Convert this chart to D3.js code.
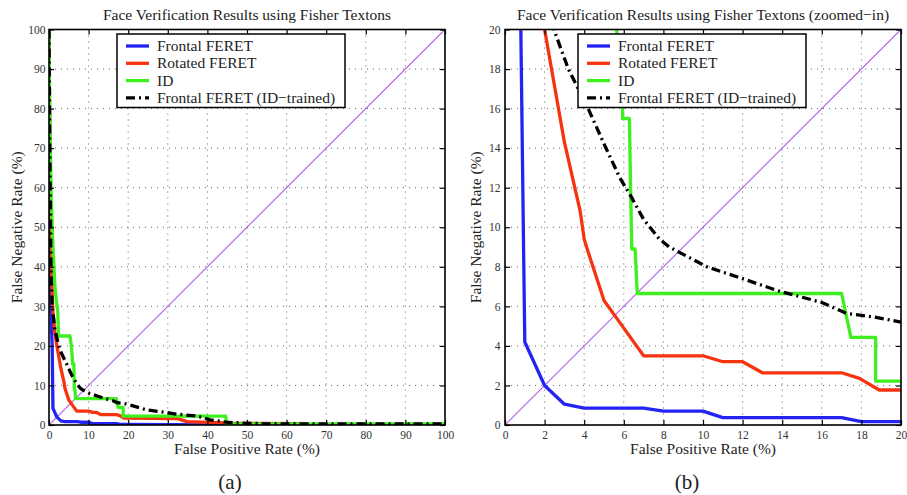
<!DOCTYPE html>
<html>
<head>
<meta charset="utf-8">
<script src="https://cdn.jsdelivr.net/npm/d3@7"></script>
<style>
  body { margin: 0; background: #fff; }
  svg { display: block; }
</style>
</head>
<body>
<div class="chart"></div>
<script>
// Curves: [false positive rate %, false negative rate %]
var frontalFeret = [
  [0, 100], [0.15, 70], [0.3, 45], [0.5, 28], [0.8, 20], [0.95, 8], [1, 4.2],
  [2, 2], [3, 1.05], [4, 0.85], [7, 0.85], [8, 0.7], [10, 0.7], [11, 0.37],
  [17, 0.37], [18, 0.17], [20, 0.17], [30, 0.12], [44, 0.05]
];
var rotatedFeret = [
  [0, 99], [0.2, 70], [0.5, 45], [0.9, 30], [1.5, 23], [2, 20], [3, 14.3],
  [3.8, 10.8], [4, 9.4], [4.2, 8.75], [5, 6.3], [6, 4.9], [7, 3.5], [10, 3.5],
  [11, 3.2], [12, 3.2], [13, 2.64], [17, 2.64], [17.9, 2.36], [18.9, 1.77],
  [20, 1.77], [32.5, 1.6], [34.8, 0.85], [45, 0.55], [46, 0.4], [65.5, 0.35]
];
var idSet = [
  [0, 100], [0.2, 80], [0.5, 60], [1, 45], [1.5, 35], [1.9, 31], [2.2, 29],
  [2.4, 22.5], [5.3, 22.5], [5.64, 20], [5.94, 16], [5.94, 15.5], [6.28, 15.5],
  [6.4, 8.9], [6.57, 8.9], [6.68, 6.65], [17, 6.65], [17.47, 4.43], [18.72, 4.43],
  [18.72, 2.22], [44.6, 2.22], [44.9, 0.3], [100, 0.3]
];
var frontalIdTrained = [
  [0, 100], [0.2, 70], [0.5, 40], [0.8, 30], [1.5, 24], [2.47, 20], [3.2, 18],
  [4.2, 16], [5.1, 14], [5.8, 12.5], [6.4, 11.5], [7, 10.4], [7.8, 9.4], [8.3, 9],
  [10.2, 8], [12, 7.4], [13.9, 6.75], [16, 6.2], [17.25, 5.64], [18.6, 5.47],
  [20, 5.2], [24.7, 3.8], [28.5, 3.3], [32.7, 2.7], [36.9, 2.3], [38.5, 2],
  [40.7, 1.3], [44.9, 0.7], [48.7, 0.5], [55, 0.3], [100, 0.25]
];

var seriesNames = ["Frontal FERET", "Rotated FERET", "ID", "Frontal FERET (ID\u2212trained)"];
var ticksFull = [0, 10, 20, 30, 40, 50, 60, 70, 80, 90, 100];
var ticksZoom = [0, 2, 4, 6, 8, 10, 12, 14, 16, 18, 20];

var FONT = "Liberation Serif, Times New Roman, serif";

var series = [
  { name: seriesNames[0], data: frontalFeret, color: "#2323f5", dash: null },
  { name: seriesNames[1], data: rotatedFeret, color: "#f7330f", dash: null },
  { name: seriesNames[2], data: idSet, color: "#3ef01e", dash: null },
  { name: seriesNames[3], data: frontalIdTrained, color: "#000", dash: "9,4,2,4" }
];

var svg = d3.select(".chart").append("svg")
  .attr("width", 907)
  .attr("height", 495)
  .attr("font-family", FONT);

drawPanel({
  id: "a",
  left: 49, right: 445, top: 29.5, bottom: 425,
  max: 100, ticks: ticksFull,
  title: "Face Verification Results using Fisher Textons",
  ylabelX: 18, legendX: 117, caption: "(a)", captionX: 230, tickPad: 3.5
});
drawPanel({
  id: "b",
  left: 505, right: 901, top: 29.5, bottom: 425,
  max: 20, ticks: ticksZoom,
  title: "Face Verification Results using Fisher Textons (zoomed\u2212in)",
  ylabelX: 477, legendX: 578, caption: "(b)", captionX: 687, tickPad: 4.5
});

function drawPanel(p) {
  var x = d3.scaleLinear().domain([0, p.max]).range([p.left, p.right]);
  var y = d3.scaleLinear().domain([0, p.max]).range([p.bottom, p.top]);
  var g = svg.append("g");

  g.append("clipPath").attr("id", "clip-" + p.id)
    .append("rect")
    .attr("x", p.left).attr("y", p.top)
    .attr("width", p.right - p.left).attr("height", p.bottom - p.top);

  // dotted grid
  g.selectAll(".vgrid").data(p.ticks.slice(1, -1)).enter().append("line")
    .attr("x1", d => x(d)).attr("x2", d => x(d))
    .attr("y1", p.top).attr("y2", p.bottom)
    .attr("stroke", "#666").attr("stroke-width", 1).attr("stroke-dasharray", "1,5");
  g.selectAll(".hgrid").data(p.ticks.slice(1, -1)).enter().append("line")
    .attr("y1", d => y(d)).attr("y2", d => y(d))
    .attr("x1", p.left).attr("x2", p.right)
    .attr("stroke", "#666").attr("stroke-width", 1).attr("stroke-dasharray", "1,5");

  var plot = g.append("g").attr("clip-path", "url(#clip-" + p.id + ")");

  // equal error diagonal
  plot.append("line")
    .attr("x1", x(0)).attr("y1", y(0))
    .attr("x2", x(p.max)).attr("y2", y(p.max))
    .attr("stroke", "#b05ce8").attr("stroke-width", 1.1);

  var line = d3.line().x(d => x(d[0])).y(d => y(d[1]));
  series.forEach(function(s) {
    plot.append("path")
      .datum(s.data)
      .attr("d", line)
      .attr("fill", "none")
      .attr("stroke", s.color)
      .attr("stroke-width", 3.3)
      .attr("stroke-linejoin", "round")
      .attr("stroke-dasharray", s.dash);
  });

  // axes with inward ticks on all four sides
  var xb = g.append("g").attr("transform", "translate(0," + p.bottom + ")")
    .call(d3.axisBottom(x).tickValues(p.ticks).tickSize(-5).tickPadding(6));
  var yl = g.append("g").attr("transform", "translate(" + p.left + ",0)")
    .call(d3.axisLeft(y).tickValues(p.ticks).tickSize(-5).tickPadding(p.tickPad));
  var xt = g.append("g").attr("transform", "translate(0," + p.top + ")")
    .call(d3.axisTop(x).tickValues(p.ticks).tickSize(-5).tickFormat(""));
  var yr = g.append("g").attr("transform", "translate(" + p.right + ",0)")
    .call(d3.axisRight(y).tickValues(p.ticks).tickSize(-5).tickFormat(""));
  [xb, yl, xt, yr].forEach(function(a) {
    a.attr("font-family", FONT).attr("font-size", 11.5);
    a.select(".domain").remove();
    a.selectAll(".tick line").attr("stroke", "#000").attr("stroke-width", 1.2);
    a.selectAll(".tick text").attr("fill", "#333");
  });

  g.append("rect")
    .attr("x", p.left).attr("y", p.top)
    .attr("width", p.right - p.left).attr("height", p.bottom - p.top)
    .attr("fill", "none").attr("stroke", "#000").attr("stroke-width", 1.6);

  // legend
  var leg = g.append("g").attr("transform", "translate(" + p.legendX + ",34)");
  leg.append("rect")
    .attr("width", 228).attr("height", 73.5)
    .attr("fill", "#fff").attr("stroke", "#000").attr("stroke-width", 1.5);
  series.forEach(function(s, i) {
    var ly = 12 + i * 17.3;
    leg.append("line")
      .attr("x1", 9).attr("x2", 32).attr("y1", ly).attr("y2", ly)
      .attr("stroke", s.color).attr("stroke-width", 3.3)
      .attr("stroke-dasharray", s.dash);
    leg.append("text")
      .attr("x", 40).attr("y", ly + 5)
      .attr("font-family", FONT).attr("font-size", 15.5).attr("fill", "#222")
      .text(s.name);
  });

  // titles and labels
  var cx = (p.left + p.right) / 2;
  g.append("text").attr("x", cx).attr("y", 20)
    .attr("text-anchor", "middle").attr("font-family", FONT).attr("font-size", 15.5)
    .attr("fill", "#222").text(p.title);
  g.append("text").attr("x", cx).attr("y", 454)
    .attr("text-anchor", "middle").attr("font-family", FONT).attr("font-size", 15.5)
    .attr("fill", "#222").text("False Positive Rate (%)");
  g.append("text")
    .attr("transform", "translate(" + (p.ylabelX + 4) + "," + ((p.top + p.bottom) / 2) + ") rotate(-90)")
    .attr("text-anchor", "middle").attr("font-family", FONT).attr("font-size", 15.5)
    .attr("fill", "#222").text("False Negative Rate (%)");
  g.append("text").attr("x", p.captionX).attr("y", 489)
    .attr("text-anchor", "middle").attr("font-family", FONT).attr("font-size", 21)
    .attr("fill", "#222").text(p.caption);
}
</script>
</body>
</html>
